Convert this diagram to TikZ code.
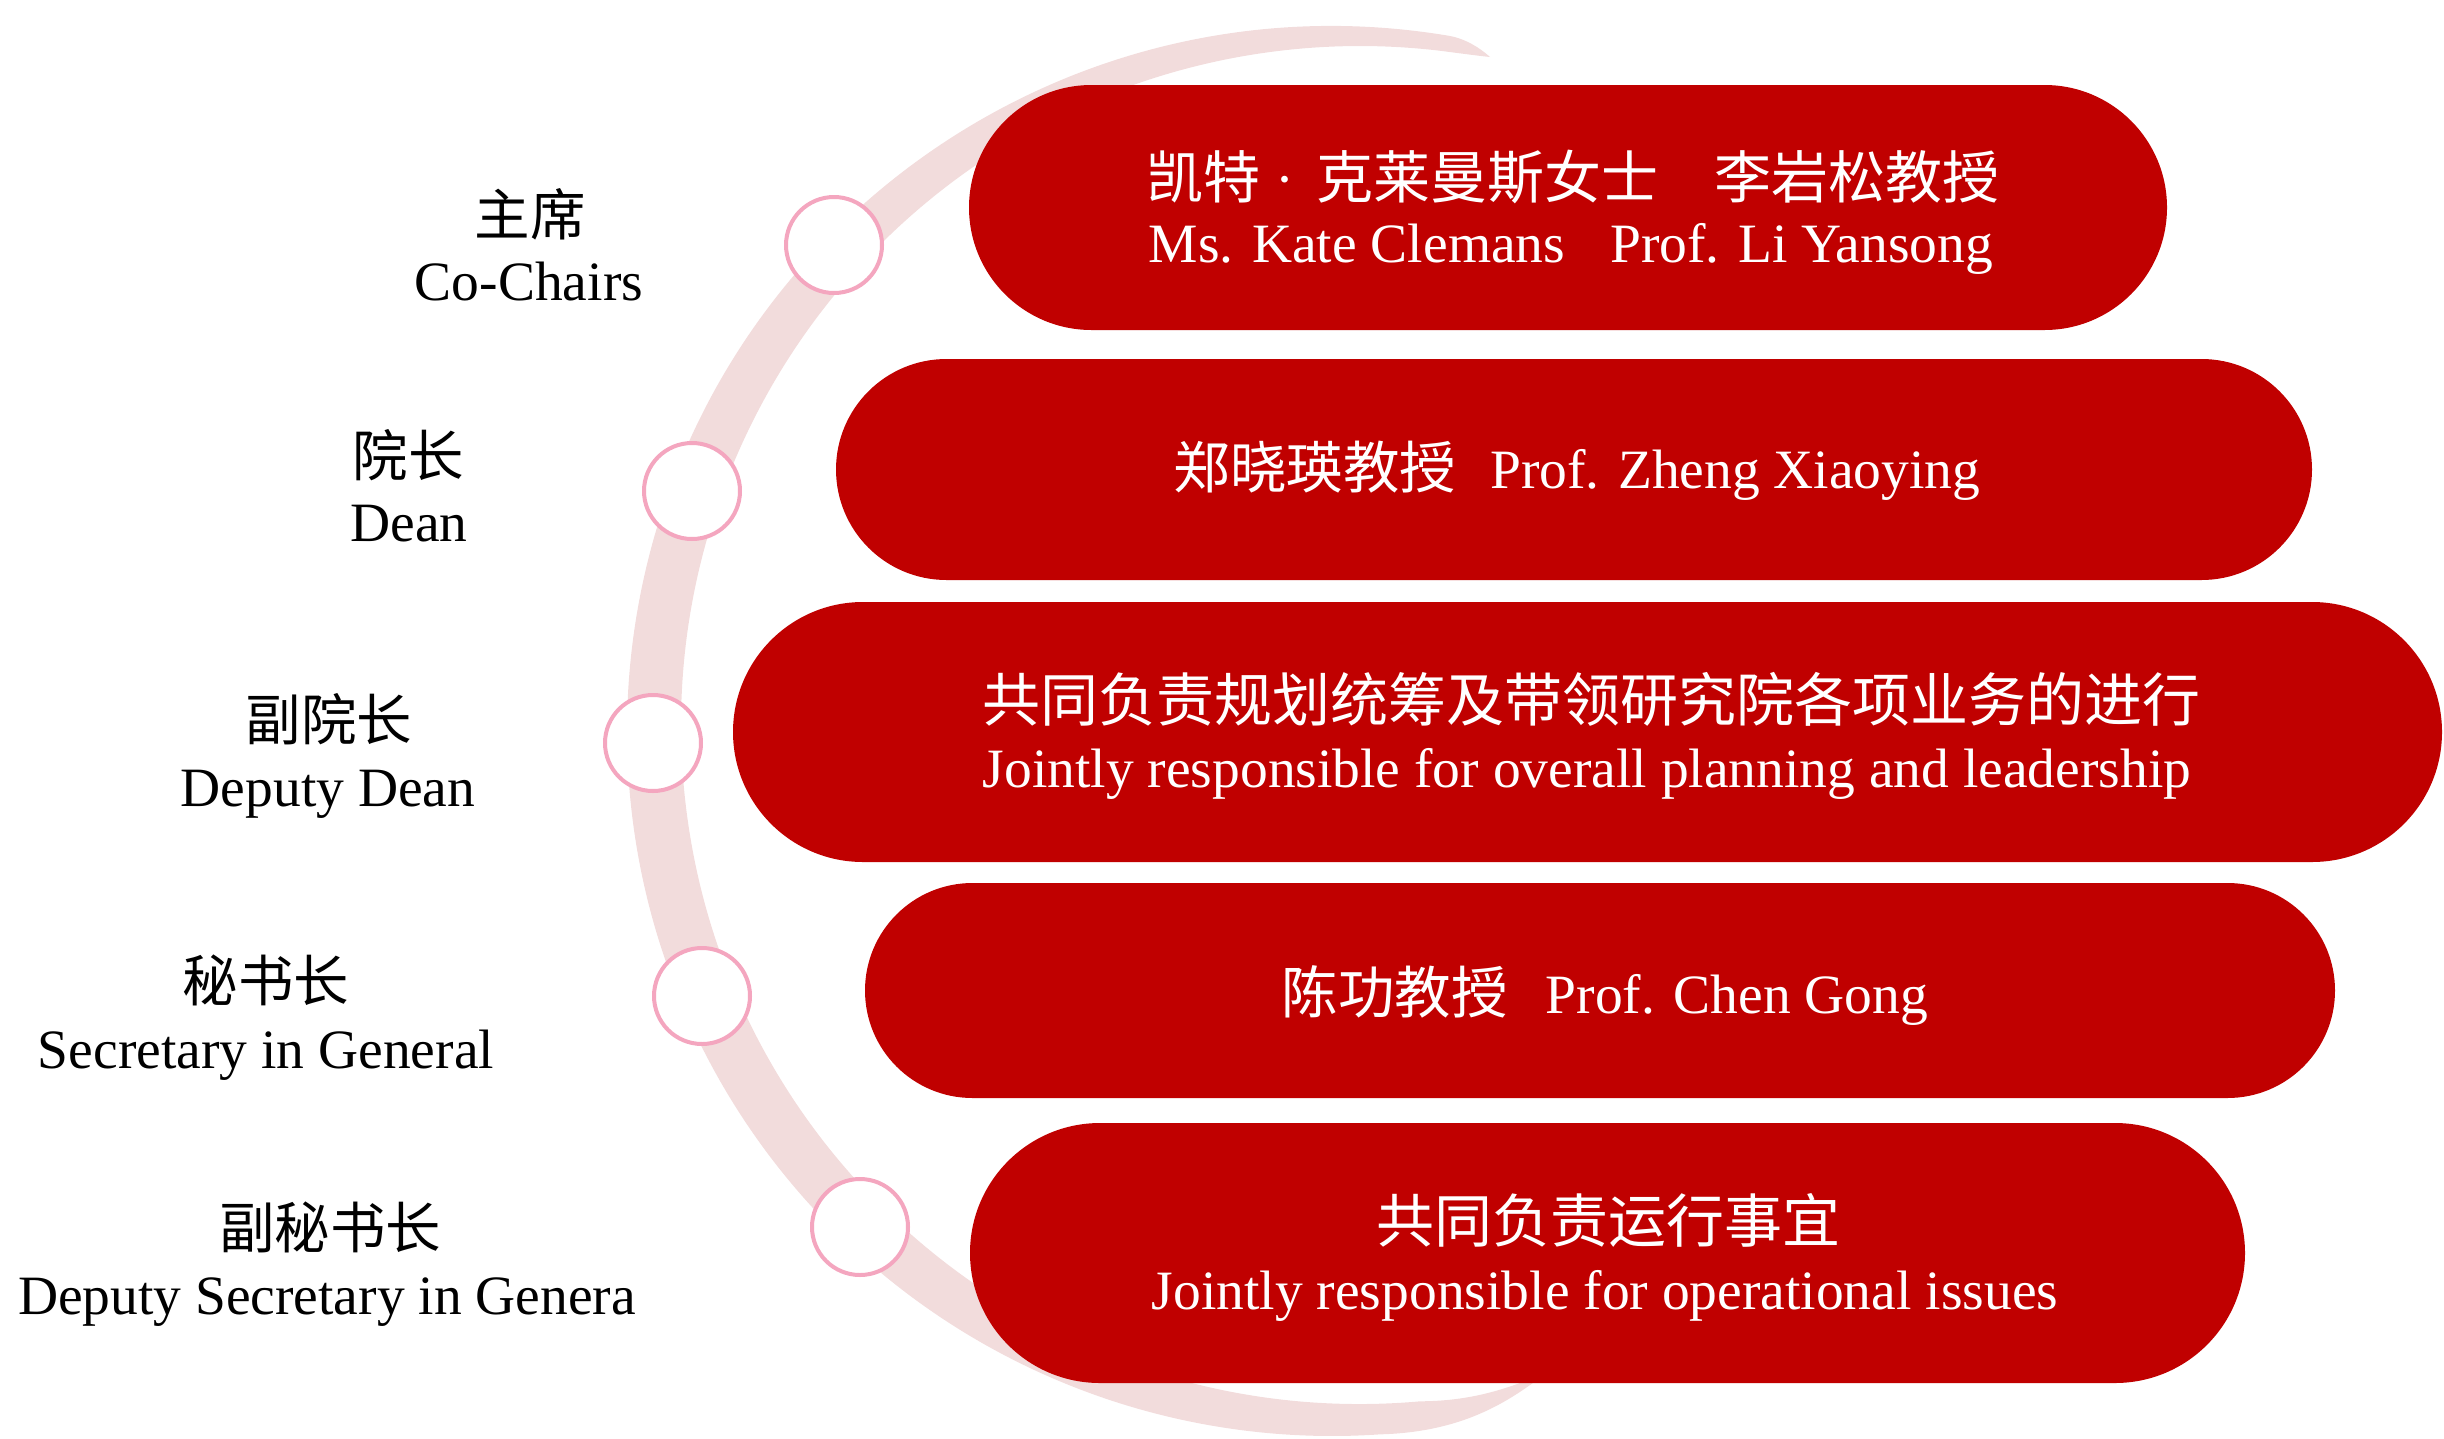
\documentclass[tikz,border=0pt]{standalone}
\usepackage{fontspec}
\setmainfont{Liberation Serif}
\newfontfamily\cjk{Noto Sans CJK SC}
\usetikzlibrary{shapes.misc,calc}
\definecolor{boxred}{HTML}{C00000}
\definecolor{arcpink}{HTML}{F2DCDC}
\definecolor{ringpink}{HTML}{F4A6BF}
\begin{document}
\begin{tikzpicture}[x=1pt,y=-1pt,
  pill/.style={rounded rectangle, fill=boxred, inner sep=0pt, draw=none},
  ring/.style={circle, draw=ringpink, line width=4pt, fill=white, minimum size=96pt, inner sep=0pt},
  wtxt/.style={text=white, inner sep=0pt, anchor=base, font=\fontsize{55.5}{66}\selectfont},
  ctxt/.style={text=white, inner sep=0pt, anchor=base, font=\cjk\fontsize{58}{66}\selectfont},
  ltxt/.style={text=black, inner sep=0pt, anchor=base, font=\fontsize{55.5}{66}\selectfont},
  lctxt/.style={text=black, inner sep=0pt, anchor=base, font=\cjk\fontsize{55.5}{66}\selectfont},
]
\useasboundingbox (0,0) rectangle (2444,1438);
% background arc band
\coordinate (o) at (1332,731);
\coordinate (i) at (1360,725);
\coordinate (tt) at (1490,57);
\coordinate (tb) at (1548,1372);
\fill[arcpink] (tt) .. controls (1480,48) and (1466,39) .. ($(o)+(80.4:705pt)$)
  arc[start angle=80.4, end angle=273.9, radius=705pt]
  .. controls (1470,1432) and (1515,1396) .. (tb)
  .. controls (1505,1390) and (1470,1401) .. ($(i)+(275.1:679pt)$)
  arc[start angle=275.1, end angle=83.2, radius=679pt]
  .. controls (1462,53.6) and (1480,56) .. (tt) -- cycle;
% rings
\node[ring] (c1) at (834,245) {};
\node[ring] (c2) at (692,491) {};
\node[ring] (c3) at (653,743) {};
\node[ring] (c4) at (702,996) {};
\node[ring] (c5) at (860,1227) {};
% boxes
\node[pill, minimum width=1198pt, minimum height=245pt] (b1) at (1568,207.5) {};
\node[pill, minimum width=1476pt, minimum height=221pt] (b2) at (1574,469.5) {};
\node[pill, minimum width=1709pt, minimum height=260pt] (b3) at (1587.5,732) {};
\node[pill, minimum width=1470pt, minimum height=215pt] (b4) at (1600,990.5) {};
\node[pill, minimum width=1275pt, minimum height=260pt] (b5) at (1607.5,1253) {};
% box texts
\node[ctxt, font=\cjk\fontsize{57}{66}\selectfont] (t1a) at (1573,198) {凯特\makebox[56pt][l]{\hspace{15pt}\rmfamily ·}克莱曼斯女士\hspace{56pt}李岩松教授};
\node[wtxt] (t1b) at (1571,262) {Ms. Kate Clemans\hspace{45pt}Prof. Li Yansong};
\node[wtxt] (t2) at (1577,488) {{\cjk\fontsize{56.5}{66}\selectfont 郑晓瑛教授}\hspace{34pt}Prof. Zheng Xiaoying};
\node[ctxt] (t3a) at (1591,721) {共同负责规划统筹及带领研究院各项业务的进行};
\node[wtxt] (t3b) at (1587,787) {Jointly responsible for overall planning and leadership};
\node[wtxt] (t4) at (1605,1013) {{\cjk\fontsize{56.5}{66}\selectfont 陈功教授}\hspace{38pt}Prof. Chen Gong};
\node[ctxt] (t5a) at (1608,1242) {共同负责运行事宜};
\node[wtxt] (t5b) at (1605,1309) {Jointly responsible for operational issues};
% left labels
\node[lctxt] (l1a) at (530,235) {主席};
\node[ltxt] (l1b) at (529,300) {Co-Chairs};
\node[lctxt] (l2a) at (408,476) {院长};
\node[ltxt] (l2b) at (409,541) {Dean};
\node[lctxt] (l3a) at (329,740) {副院长};
\node[ltxt] (l3b) at (328,806) {Deputy Dean};
\node[lctxt] (l4a) at (266,1001) {秘书长};
\node[ltxt] (l4b) at (266,1068) {Secretary in General};
\node[lctxt] (l5a) at (330,1248) {副秘书长};
\node[ltxt] (l5b) at (327,1314) {Deputy Secretary in Genera};
\end{tikzpicture}
\end{document}
